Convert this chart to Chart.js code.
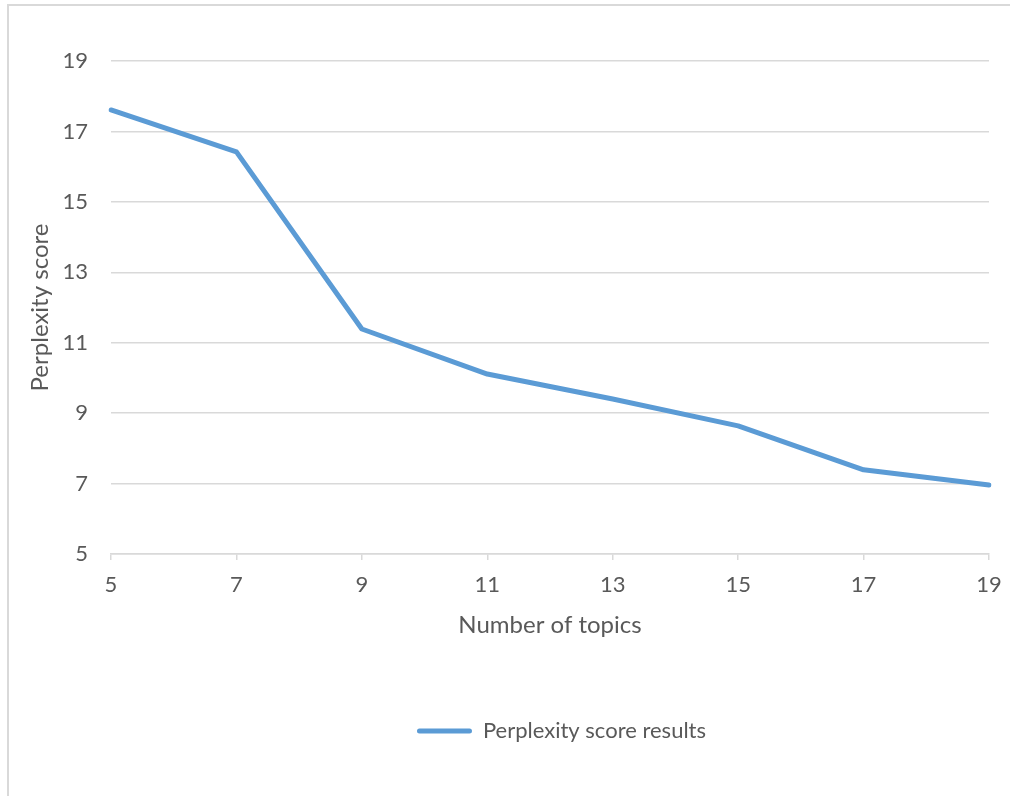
<!DOCTYPE html>
<html>
<head>
<meta charset="utf-8">
<script src="https://cdn.jsdelivr.net/npm/chart.js@4/dist/chart.umd.min.js"></script>
<style>
  html, body { margin: 0; padding: 0; background: #fff; }
  #wrap { position: relative; width: 1010px; height: 796px; overflow: hidden; }
  #frame { position: absolute; left: 7px; top: 4px; width: 1100px; height: 900px; border-left: 2px solid #d9d9d9; border-top: 2px solid #d9d9d9; box-sizing: border-box; }
  canvas { position: absolute; left: 0; top: 0; }
</style>
</head>
<body>
<div id="wrap">
  <div id="frame"></div>
  <canvas id="c" width="1010" height="796"></canvas>
</div>
<script>
const topics = ['5', '7', '9', '11', '13', '15', '17', '19'];
const perplexity = [17.61, 16.42, 11.39, 10.11, 9.40, 8.64, 7.39, 6.96];
const seriesName = 'Perplexity score results';
const xTitle = 'Number of topics';
const yTitle = 'Perplexity score';

const FONT = 'Lato, "Open Sans", sans-serif';
const TXT = '#595959';
const GRID = '#d9d9d9';
const BLUE = '#5b9bd5';

const legendShift = {
  id: 'legendShift',
  afterLayout(chart) {
    const lg = chart.legend;
    if (lg) { lg.left += 67; lg.right += 67; lg.top += 8; lg.bottom += 8; }
  }
};

new Chart(document.getElementById('c'), {
  type: 'line',
  data: {
    labels: topics,
    datasets: [{
      label: seriesName,
      data: perplexity,
      borderColor: BLUE,
      backgroundColor: BLUE,
      borderWidth: 5,
      pointRadius: 0,
      pointHoverRadius: 0,
      tension: 0,
      borderJoinStyle: 'round',
      borderCapStyle: 'round'
    }]
  },
  plugins: [legendShift],
  options: {
    responsive: false,
    animation: false,
    events: [],
    layout: { padding: { left: 0, top: 61, right: 21, bottom: 52 } },
    plugins: {
      tooltip: { enabled: false },
      legend: {
        position: 'bottom',
        labels: {
          color: TXT,
          font: { family: FONT, size: 22 },
          boxWidth: 55,
          boxHeight: 5,
          padding: 10,
          useBorderRadius: true,
          borderRadius: 2.5,
          generateLabels(chart) {
            return chart.data.datasets.map((ds, i) => ({
              text: ds.label,
              fillStyle: ds.borderColor,
              strokeStyle: ds.borderColor,
              lineWidth: 0,
              borderRadius: 2.5,
              fontColor: TXT,
              datasetIndex: i,
              hidden: false
            }));
          }
        }
      }
    },
    scales: {
      x: {
        type: 'category',
        offset: false,
        grid: { display: true, drawOnChartArea: false, drawTicks: true, tickLength: 6, color: GRID, lineWidth: 1.5 },
        border: { display: true, color: GRID, width: 1.5 },
        ticks: { color: TXT, font: { family: FONT, size: 22 }, padding: 12, maxRotation: 0, autoSkip: false },
        title: { display: true, text: xTitle, color: TXT, font: { family: FONT, size: 24 }, padding: { top: 0, bottom: 148 - 71 - 14.4 } },
        afterFit(scale) { scale.height = 148; scale.paddingLeft = 0; scale.paddingRight = 0; }
      },
      y: {
        min: 5,
        max: 19,
        grid: { display: true, drawTicks: false, color: GRID, lineWidth: 1.5 },
        border: { display: false },
        ticks: { stepSize: 2, color: TXT, font: { family: FONT, size: 22 }, padding: 23 },
        title: { display: true, text: yTitle, color: TXT, font: { family: FONT, size: 24 }, padding: { top: 40 - 14.4, bottom: 0 } },
        afterFit(scale) { scale.width = 111; }
      }
    }
  }
});
</script>
</body>
</html>
